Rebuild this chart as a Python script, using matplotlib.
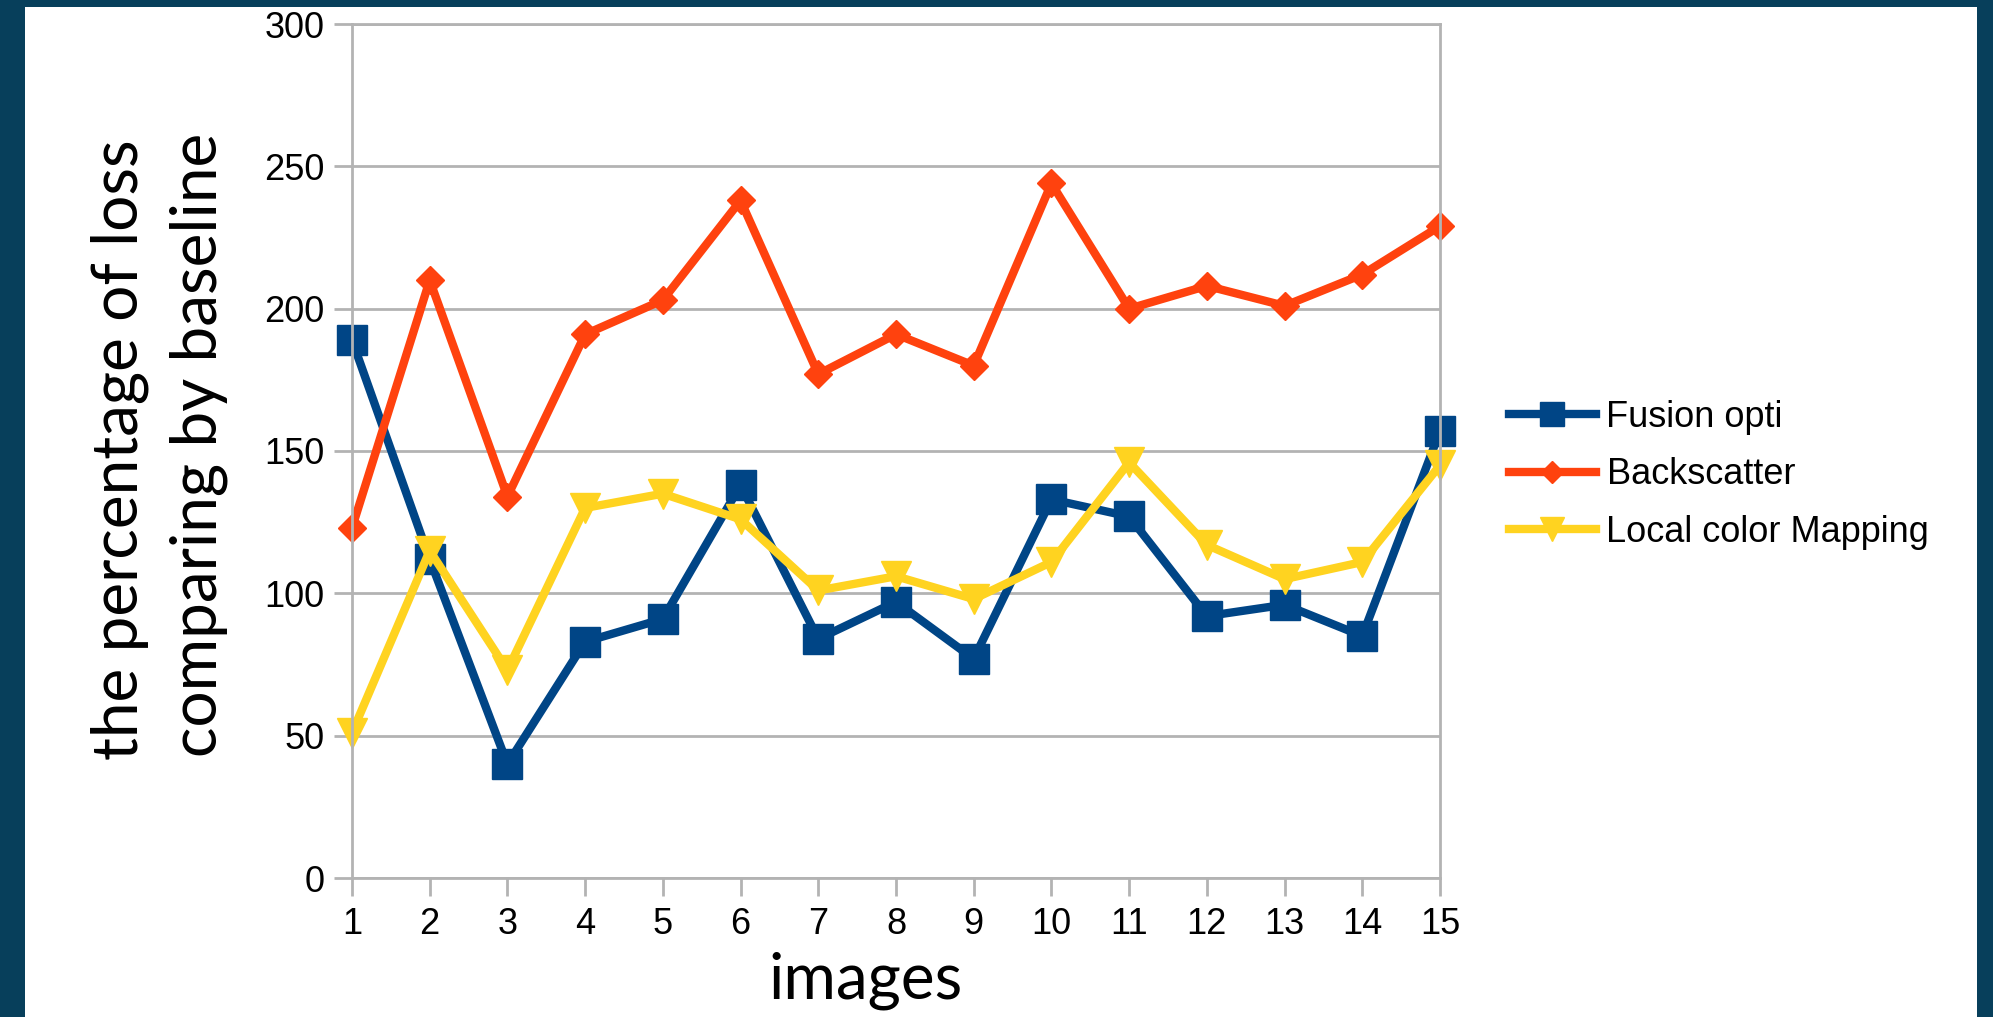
import matplotlib
matplotlib.use("Agg")
import matplotlib.pyplot as plt
from matplotlib.patches import Rectangle

# loss per image, three methods
images = list(range(1, 16))
fusion_opti = [189, 112, 40, 83, 91, 138, 84, 97, 77, 133, 127, 92, 96, 85, 157]
backscatter = [123, 210, 134, 191, 203, 238, 177, 191, 180, 244, 200, 208, 201, 212, 229]
local_color = [51, 115, 73, 130, 135, 126, 101, 106, 98, 111, 146, 117, 105, 111, 145]
y_ticks = [0, 50, 100, 150, 200, 250, 300]

W, H = 1993, 1017
fig = plt.figure(figsize=(W / 100, H / 100), dpi=100)
fig.patch.set_facecolor("#073f5b")

# white chart page on the dark background
fig.patches.append(Rectangle((25 / W, 0), 1952 / W, 1 - 7 / H,
                             transform=fig.transFigure, facecolor="white",
                             edgecolor="none", zorder=-5))

grey = "#b3b3b3"
ax = fig.add_axes([352 / W, 1 - 878 / H, 1088 / W, 854 / H])
ax.set_facecolor("white")

ax.plot(images, fusion_opti, color="#004586", lw=6, marker="s", ms=22,
        label="Fusion opti", solid_joinstyle="miter", clip_on=False)
ax.plot(images, backscatter, color="#ff420e", lw=6, marker="D", ms=14,
        label="Backscatter", solid_joinstyle="miter", clip_on=False)
ax.plot(images, local_color, color="#ffd320", lw=6, marker="v", ms=22,
        label="Local color Mapping", solid_joinstyle="miter", clip_on=False)

ax.set_xlim(1, 15)
ax.set_ylim(0, 300)
ax.set_xticks(images)
ax.set_yticks(y_ticks)
ax.yaxis.grid(True, color=grey, lw=2)
ax.set_axisbelow(True)
for s in ax.spines.values():
    s.set_color(grey)
    s.set_linewidth(2)
ax.tick_params(axis="both", color=grey, width=2, length=13, labelsize=26,
               labelcolor="black")
ax.tick_params(axis="y", pad=7)
ax.tick_params(axis="x", pad=8)
for lab in ax.get_xticklabels() + ax.get_yticklabels():
    lab.set_fontfamily("Liberation Sans")

leg = ax.legend(loc="center left", bbox_to_anchor=(1509 / W, 1 - 475 / H),
                bbox_transform=fig.transFigure, frameon=False, borderpad=0,
                borderaxespad=0, handlelength=2.4, handletextpad=0.3,
                labelspacing=0.62, markerscale=0.8,
                prop={"family": "Liberation Sans", "size": 26})

lab_font = {"family": "Lato", "size": 46}
fig.text(138 / W, 1 - 450 / H, "the percentage of loss", rotation=90,
         rotation_mode="anchor", ha="center", va="baseline", **lab_font)
fig.text(217 / W, 1 - 445 / H, "comparing by baseline", rotation=90,
         rotation_mode="anchor", ha="center", va="baseline", **lab_font)
fig.text(866 / W, 1 - 999 / H, "images", ha="center", va="baseline",
         **lab_font)

fig.savefig("out.png", dpi=100, facecolor=fig.get_facecolor())
